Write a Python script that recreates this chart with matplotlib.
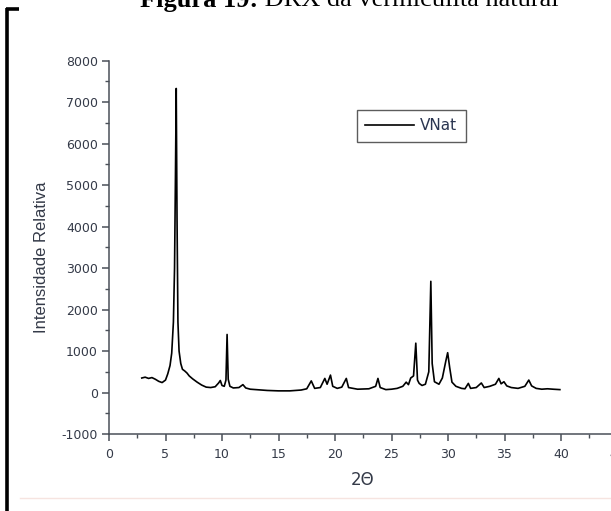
import matplotlib
matplotlib.use("Agg")
import matplotlib.pyplot as plt
from matplotlib.lines import Line2D
from matplotlib.ticker import MultipleLocator

plt.rcParams["axes.unicode_minus"] = False

# Data (2θ in degrees, relative intensity)
two_theta = [2.9, 3.2, 3.5, 3.8, 4.1, 4.4, 4.7, 5.0, 5.2, 5.4, 5.55, 5.7, 5.8, 5.88, 5.95,
             6.02, 6.1, 6.2, 6.35, 6.5, 6.7, 6.9, 7.1, 7.4, 7.8, 8.2, 8.6, 9.0, 9.4, 9.7,
             9.85, 10.0, 10.2, 10.35, 10.45, 10.55, 10.7, 11.0, 11.5, 11.85, 12.1, 12.5,
             13.0, 14.0, 15.0, 16.0, 17.0, 17.5, 17.9, 18.2, 18.7, 19.1, 19.3, 19.6, 19.8,
             20.2, 20.6, 21.0, 21.2, 22.0, 23.0, 23.6, 23.8, 24.0, 24.5, 25.0, 25.5, 26.0,
             26.3, 26.5, 26.7, 26.95, 27.15, 27.3, 27.45, 27.7, 28.0, 28.3, 28.48, 28.6,
             28.8, 29.2, 29.5, 29.8, 29.97, 30.15, 30.35, 30.7, 31.2, 31.5, 31.8, 32.0,
             32.5, 32.95, 33.2, 33.7, 34.2, 34.5, 34.7, 34.95, 35.2, 35.6, 36.2, 36.8,
             37.15, 37.4, 37.8, 38.3, 38.8, 39.3, 39.9]
intensity = [350, 370, 340, 360, 320, 270, 240, 300, 450, 650, 950, 1700, 3000, 5200, 7330,
             4200, 1700, 1000, 700, 560, 520, 470, 400, 330, 250, 180, 130, 120, 140, 230,
             290, 170, 150, 300, 1400, 320, 150, 110, 120, 190, 110, 80,
             70, 50, 40, 40, 60, 90, 280, 100, 120, 340, 200, 420, 150,
             100, 130, 340, 120, 80, 90, 150, 340, 120, 70, 80, 100, 150,
             250, 190, 350, 400, 1190, 300, 220, 170, 200, 500, 2680, 700,
             260, 200, 350, 750, 960, 600, 250, 150, 100, 90, 220, 100,
             120, 230, 120, 150, 200, 340, 210, 260, 160, 120, 100, 150,
             300, 160, 100, 80, 90, 80, 70]

series_label = "VNat"
x_label = "2\u0398"
y_label = "Intensidade Relativa"
title_bold = "Figura 19:"
title_rest = " DRX da vermiculita natural"

W, H = 611, 511
fig = plt.figure(figsize=(W / 100, H / 100), dpi=100)
fig.patch.set_facecolor("white")

ax = fig.add_axes([109 / W, 1 - 434 / H, 508.5 / W, (434 - 60.7) / H])
ax.plot(two_theta, intensity, color="black", lw=1.2, label=series_label)
ax.set_xlim(0, 45)
ax.set_ylim(-1000, 8000)
ax.xaxis.set_major_locator(MultipleLocator(5))
ax.xaxis.set_minor_locator(MultipleLocator(2.5))
ax.yaxis.set_major_locator(MultipleLocator(1000))
ax.yaxis.set_minor_locator(MultipleLocator(500))

axis_col = "#4a5058"
lab_col = "#343a48"
for s in ["top", "right"]:
    ax.spines[s].set_visible(False)
for s in ["left", "bottom"]:
    ax.spines[s].set_color(axis_col)
    ax.spines[s].set_linewidth(1.1)
ax.tick_params(which="major", direction="out", length=5, width=1.1, color=axis_col,
               labelsize=9, labelcolor=lab_col)
ax.tick_params(axis="y", which="major", pad=3)
ax.tick_params(axis="x", which="major", pad=5)
ax.tick_params(which="minor", direction="out", length=3, width=1.0, color=axis_col)
for t in ax.get_xticklabels() + ax.get_yticklabels():
    t.set_fontfamily("DejaVu Sans")

fig.text(363 / W, 1 - 480 / H, x_label, fontsize=12, family="DejaVu Sans",
         color=lab_col, ha="center", va="center")
fig.text(42 / W, 1 - 257 / H, y_label, fontsize=12, family="Liberation Sans",
         color=lab_col, ha="center", va="center", rotation=90)

leg = ax.legend(loc="upper left", bbox_to_anchor=(356.7 / W, 1 - 110 / H),
                bbox_transform=fig.transFigure, frameon=True,
                fancybox=False, borderaxespad=0, handlelength=3.2, handletextpad=0.4,
                borderpad=0.55, prop={"family": "DejaVu Sans", "size": 11})
leg.get_frame().set_edgecolor("#333333")
leg.get_frame().set_linewidth(1.0)
for t in leg.get_texts():
    t.set_color("#2a3550")

# Title (cut off at top of page crop)
base_y = 1 - 6.5 / H
t1 = fig.text(140 / W, base_y, title_bold, fontsize=19, family="Liberation Serif",
              fontweight="bold", ha="left", va="baseline")
fig.canvas.draw()
bb = t1.get_window_extent()
fig.text(bb.x1 / W, base_y, title_rest, fontsize=19, family="Liberation Serif",
         ha="left", va="baseline")

# Left bracket of the page frame
fig.add_artist(Line2D([7.5 / W, 7.5 / W], [0, 1 - 8 / H], transform=fig.transFigure,
                      color="black", lw=2.6, solid_capstyle="butt"))
fig.add_artist(Line2D([6 / W, 19 / W], [1 - 9.5 / H, 1 - 9.5 / H], transform=fig.transFigure,
                      color="black", lw=2.6, solid_capstyle="butt"))
# faint pink rule near bottom
fig.add_artist(Line2D([20 / W, 1], [1 - 498 / H, 1 - 498 / H], transform=fig.transFigure,
                      color="#f6e4e0", lw=1.0))

fig.savefig("out.png", dpi=100)
